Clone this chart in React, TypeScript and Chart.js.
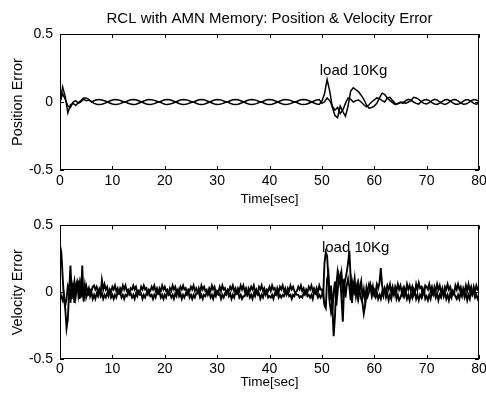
import React, { useEffect, useRef } from "react";
import { Chart, registerables } from "chart.js";

Chart.register(...registerables);

const TITLE = "RCL with AMN Memory: Position & Velocity Error";
const X_LABEL = "Time[sec]";
const POS_LABEL = "Position Error";
const VEL_LABEL = "Velocity Error";
const LOAD_TEXT = "load 10Kg";
const X_TICKS = [0, 10, 20, 30, 40, 50, 60, 70, 80];
const Y_TICKS = [-0.5, 0, 0.5];
const POS_STEP = 0.5;
const VEL_STEP = 0.25;

// Position error, joint 1 (sampled every 0.5 s)
const posA = [
  0, 0.11, 0.04, -0.08, -0.02, -0.01, -0.025, -0.005, 0.01, 0.03,
  0.03, 0.02, 0.0, 0.009, 0.016, 0.018, 0.015, 0.009, 0.002, -0.007,
  -0.014, -0.018, -0.016, -0.012, -0.004, 0.001, 0.009, 0.016, 0.019, 0.016,
  0.009, 0.002, -0.007, -0.014, -0.018, -0.017, -0.012, -0.004, 0.0, 0.009,
  0.016, 0.018, 0.016, 0.009, 0.002, -0.007, -0.015, -0.018, -0.017, -0.012,
  -0.004, 0.0, 0.009, 0.016, 0.018, 0.016, 0.009, 0.002, -0.007, -0.014,
  -0.018, -0.017, -0.012, -0.004, 0.0, 0.009, 0.016, 0.018, 0.016, 0.009,
  0.002, -0.007, -0.014, -0.018, -0.017, -0.012, -0.004, 0.0, 0.009, 0.016,
  0.018, 0.016, 0.009, 0.002, -0.007, -0.014, -0.018, -0.017, -0.012, -0.004,
  0.0, 0.009, 0.016, 0.018, 0.016, 0.009, 0.002, -0.007, -0.014, -0.018,
  0.005, 0.06, 0.165, 0.08, -0.04, -0.1, -0.115, -0.03, -0.07, -0.105,
  -0.03, 0.08, 0.105, 0.09, 0.075, 0.05, 0.02, -0.02, -0.045, -0.04,
  -0.03, -0.01, 0.03, 0.065, 0.055, 0.03, 0.035, 0.01, -0.01, -0.015,
  -0.005, 0.0, -0.01, 0.0, 0.01, 0.035, 0.03, 0.02, 0.0, -0.01,
  -0.015, -0.005, 0.01, 0.02, 0.015, 0.0, -0.012, -0.018, -0.01, 0.005,
  0.017, 0.018, 0.008, -0.006, -0.016, -0.015, -0.004, 0.01, 0.018, 0.015,
  0.005,
];

// Position error, joint 2
const posB = [
  0, 0.06, 0.02, -0.03, -0.04, 0.0, 0.01, -0.01, 0.0, 0.02,
  0.01, 0.015, 0.002, -0.01, -0.016, -0.018, -0.016, -0.01, -0.002, 0.007,
  0.014, 0.018, 0.016, 0.011, 0.004, 0.0, -0.009, -0.015, -0.018, -0.016,
  -0.009, -0.002, 0.007, 0.014, 0.018, 0.017, 0.012, 0.005, 0.0, -0.008,
  -0.016, -0.018, -0.015, -0.009, -0.002, 0.007, 0.014, 0.018, 0.016, 0.012,
  0.004, 0.0, -0.009, -0.016, -0.018, -0.016, -0.009, -0.002, 0.007, 0.014,
  0.018, 0.017, 0.012, 0.004, 0.0, -0.009, -0.016, -0.018, -0.016, -0.009,
  -0.002, 0.007, 0.014, 0.018, 0.017, 0.012, 0.004, 0.0, -0.009, -0.016,
  -0.018, -0.016, -0.009, -0.002, 0.007, 0.014, 0.018, 0.017, 0.012, 0.004,
  0.0, -0.009, -0.016, -0.018, -0.016, -0.009, -0.002, 0.007, 0.014, 0.018,
  -0.01, 0.0, 0.03, 0.01, -0.03, -0.06, -0.04, -0.085, -0.06, -0.01,
  0.03, 0.02, 0.0, 0.01, 0.015, 0.0, -0.02, -0.035, -0.02, 0.0,
  0.015, 0.03, 0.025, 0.01, 0.0, 0.03, 0.01, -0.005, -0.02, -0.01,
  0.0, -0.01, 0.01, 0.02, 0.015, 0.0, -0.01, -0.015, 0.005, 0.015,
  0.018, 0.01, -0.005, -0.015, -0.018, -0.008, 0.005, 0.016, 0.018, 0.008,
  -0.006, -0.016, -0.017, -0.008, 0.006, 0.016, 0.016, 0.005, -0.01, -0.016,
  -0.008,
];

// Velocity error, joint 1 (sampled every 0.25 s)
const velA = [
  0.35, 0.3, 0.12, -0.05, -0.12, -0.27, -0.2, 0.02, 0.2, -0.05, 0.06, -0.08, 0.05, 0.08, -0.02, 0.06, -0.04, 0.2, -0.07, 0.02,
  0.05, 0.0, 0.03, -0.03, 0.0, -0.05, -0.02, -0.05, -0.01, -0.03, 0.02, -0.01, 0.09, 0.02, 0.06, 0.02, 0.04, -0.01, 0.01, -0.04,
  -0.02, -0.05, -0.02, -0.04, 0.0, -0.01, 0.03, 0.01, 0.05, 0.02, 0.05, 0.01, 0.02, -0.02, -0.01, -0.04, -0.02, -0.05, -0.01, -0.03,
  0.01, 0.0, 0.04, 0.02, 0.05, 0.02, 0.03, -0.01, 0.0, -0.03, -0.02, -0.05, -0.02, -0.04, 0.0, -0.01, 0.03, 0.01, 0.05, 0.02,
  0.04, 0.01, 0.02, -0.02, -0.01, -0.04, -0.02, -0.05, -0.01, -0.03, 0.01, 0.0, 0.04, 0.02, 0.05, 0.02, 0.03, -0.01, 0.01, -0.04,
  -0.02, -0.05, -0.02, -0.04, -0.01, -0.01, 0.03, 0.0, 0.05, 0.02, 0.04, 0.01, 0.02, -0.02, 0.0, -0.04, -0.02, -0.05, -0.01, -0.03,
  0.01, 0.0, 0.04, 0.01, 0.05, 0.02, 0.03, -0.01, 0.01, -0.03, -0.01, -0.05, -0.02, -0.04, 0.0, -0.01, 0.03, 0.01, 0.05, 0.02,
  0.05, 0.01, 0.03, -0.02, 0.0, -0.04, -0.02, -0.05, -0.01, -0.03, 0.01, -0.01, 0.04, 0.02, 0.05, 0.01, 0.03, -0.01, 0.0, -0.04,
  -0.03, -0.04, -0.02, -0.05, -0.01, -0.02, 0.03, 0.0, 0.04, 0.02, 0.05, 0.01, 0.03, -0.02, 0.0, -0.03, -0.02, -0.05, -0.02, -0.03,
  0.0, 0.01, 0.04, 0.02, 0.05, 0.01, 0.03, -0.01, 0.0, -0.03, -0.02, -0.04, -0.02, -0.05, 0.0, -0.01, 0.03, 0.0, 0.05, 0.02,
  0.02, -0.03, 0.22, 0.3, 0.27, 0.1, -0.08, -0.15, -0.1, -0.33, -0.18, 0.05, 0.15, 0.08, 0.12, -0.05, -0.22, 0.05, 0.1, 0.15,
  0.22, 0.31, 0.1, -0.08, 0.05, 0.0, 0.04, -0.03, 0.06, 0.0, -0.05, -0.08, -0.16, -0.1, -0.02, 0.02, 0.06, 0.02, 0.04, -0.02,
  0.02, 0.0, 0.06, 0.03, 0.07, 0.18, 0.05, 0.0, 0.02, -0.04, -0.01, -0.06, -0.02, -0.05, 0.01, -0.02, 0.04, 0.01, 0.06, 0.02,
  0.05, 0.0, 0.03, -0.03, 0.0, -0.05, -0.02, -0.06, -0.01, -0.04, 0.02, -0.01, 0.06, 0.02, 0.07, 0.03, 0.04, -0.02, 0.02, -0.05,
  -0.03, -0.06, -0.02, -0.05, 0.0, -0.02, 0.04, 0.01, 0.06, 0.02, 0.05, 0.0, 0.03, -0.03, 0.0, -0.05, -0.02, -0.06, -0.01, -0.04,
  0.01, -0.01, 0.05, 0.02, 0.06, 0.02, 0.04, -0.01, 0.01, -0.04, -0.01, -0.06, -0.02, -0.05, 0.0, -0.02, 0.04, 0.0, 0.05, 0.02,
  0.03,
];

// Velocity error, joint 2
const velB = [
  0.0, -0.03, -0.06, -0.02, -0.1, -0.05, 0.05, 0.03, -0.08, 0.07, 0.02, 0.08, -0.03, 0.05, 0.07, -0.05, 0.06, 0.0, -0.04, 0.05,
  -0.04, -0.01, -0.02, 0.02, 0.01, 0.04, 0.05, 0.02, 0.04, 0.0, 0.02, -0.03, -0.01, -0.05, -0.02, -0.04, -0.01, -0.03, 0.02, 0.0,
  0.04, 0.02, 0.05, 0.01, 0.03, -0.01, 0.0, -0.04, -0.02, -0.05, -0.02, -0.03, 0.0, -0.01, 0.03, 0.02, 0.05, 0.02, 0.04, 0.0,
  -0.01, -0.02, -0.01, -0.05, -0.02, -0.04, -0.01, -0.02, 0.02, 0.01, 0.04, 0.02, 0.05, 0.01, 0.03, -0.01, 0.0, -0.04, -0.02, -0.05,
  -0.02, -0.04, 0.0, -0.01, 0.03, 0.01, 0.05, 0.02, 0.04, 0.0, 0.02, -0.03, -0.01, -0.05, -0.02, -0.04, -0.01, -0.02, 0.02, 0.01,
  0.04, 0.02, 0.05, 0.01, 0.03, 0.0, 0.0, -0.04, -0.02, -0.05, -0.02, -0.03, 0.0, -0.01, 0.03, 0.01, 0.05, 0.02, 0.04, 0.0,
  -0.01, -0.02, -0.01, -0.05, -0.02, -0.04, -0.01, -0.02, 0.02, 0.01, 0.04, 0.02, 0.05, 0.01, 0.03, -0.01, 0.0, -0.04, -0.02, -0.05,
  -0.03, -0.03, 0.0, -0.02, 0.03, 0.01, 0.04, 0.02, 0.05, 0.0, 0.02, -0.02, -0.01, -0.05, -0.02, -0.04, 0.0, -0.02, 0.02, 0.01,
  0.04, 0.01, 0.05, 0.02, 0.03, -0.01, 0.01, -0.04, -0.02, -0.04, -0.02, -0.03, 0.0, -0.01, 0.03, 0.01, 0.05, 0.02, 0.04, 0.01,
  -0.01, -0.02, -0.02, -0.04, -0.03, -0.04, -0.01, -0.02, 0.02, 0.0, 0.04, 0.02, 0.05, 0.01, 0.03, 0.0, -0.01, -0.04, -0.02, -0.04,
  -0.02, 0.0, -0.1, -0.12, 0.1, 0.14, -0.06, 0.05, -0.14, 0.0, 0.08, -0.1, 0.0, 0.12, 0.06, 0.14, 0.02, 0.1, -0.04, 0.05,
  0.1, 0.04, -0.06, 0.08, 0.02, 0.1, -0.02, 0.05, -0.04, 0.03, 0.08, -0.04, 0.02, -0.06, 0.03, -0.03, 0.0, 0.05, -0.02, 0.04,
  -0.02, -0.04, 0.0, -0.05, -0.02, -0.05, 0.0, -0.03, 0.03, 0.0, 0.05, 0.02, 0.06, 0.0, 0.04, -0.01, 0.01, -0.05, -0.02, -0.06,
  -0.04, -0.01, -0.03, 0.03, 0.0, 0.06, 0.02, 0.05, 0.01, 0.04, -0.02, 0.01, -0.05, -0.02, -0.06, -0.02, -0.04, 0.02, -0.01, 0.05,
  0.04, 0.02, 0.06, 0.01, 0.04, -0.01, 0.0, -0.04, -0.01, -0.06, -0.02, -0.04, 0.01, -0.02, 0.04, 0.02, 0.06, 0.02, 0.04, 0.0,
  -0.02, -0.01, -0.03, -0.05, -0.02, -0.05, 0.0, -0.03, 0.03, 0.0, 0.05, 0.01, 0.06, 0.01, 0.04, -0.01, 0.01, -0.04, -0.02, -0.05,
  -0.03,
];

// annotation anchor (data coordinates)
const POS_LOAD_AT = [49.6, 0.23];
const VEL_LOAD_AT = [50.0, 0.33];

const FONT = "'Liberation Sans', Arial, Helvetica, sans-serif";

const toPoints = (vals: number[], step: number) => vals.map((v, i) => ({ x: i * step, y: v }));

const framePlugin = {
  id: "matlabFrame",
  afterDatasetsDraw(chart: any) {
    const { ctx, chartArea, scales } = chart;
    const { left, right, top, bottom } = chartArea;
    ctx.save();
    ctx.strokeStyle = "#000";
    ctx.lineWidth = 1;
    ctx.strokeRect(Math.round(left) + 0.5, Math.round(top) + 0.5, Math.round(right - left) - 1, Math.round(bottom - top) - 1);
    const tl = 4;
    ctx.beginPath();
    X_TICKS.forEach((v) => {
      const px = Math.round(scales.x.getPixelForValue(v)) + 0.5;
      ctx.moveTo(px, bottom);
      ctx.lineTo(px, bottom - tl);
      ctx.moveTo(px, top);
      ctx.lineTo(px, top + tl);
    });
    Y_TICKS.forEach((v) => {
      const py = Math.round(scales.y.getPixelForValue(v)) + 0.5;
      ctx.moveTo(left, py);
      ctx.lineTo(left + tl, py);
      ctx.moveTo(right, py);
      ctx.lineTo(right - tl, py);
    });
    ctx.stroke();
    ctx.restore();
  },
};

const labelPlugin = {
  id: "loadLabel",
  afterDraw(chart: any, _args: any, opts: any) {
    if (!opts || !opts.text) return;
    const { ctx, scales } = chart;
    ctx.save();
    ctx.fillStyle = "#000";
    ctx.font = `${opts.size}px ${FONT}`;
    ctx.textAlign = "left";
    ctx.textBaseline = "middle";
    ctx.fillText(opts.text, scales.x.getPixelForValue(opts.at[0]), scales.y.getPixelForValue(opts.at[1]));
    ctx.restore();
  },
};

function buildConfig(a: number[], b: number[], step: number, lineW: number, yLabel: string, withTitle: boolean, labelAt: number[], axisH: number, tickPad: number, titlePadBottom: number, padTop: number) {
  return {
    type: "line" as const,
    data: {
      datasets: [
        { data: toPoints(a, step), borderColor: "#000", borderWidth: lineW, pointRadius: 0, tension: 0, fill: false },
        { data: toPoints(b, step), borderColor: "#000", borderWidth: lineW, pointRadius: 0, tension: 0, fill: false },
      ],
    },
    options: {
      responsive: false,
      animation: false,
      devicePixelRatio: 1,
      layout: { padding: { left: 0, right: 7, top: padTop, bottom: 0 } },
      plugins: {
        legend: { display: false },
        tooltip: { enabled: false },
        title: {
          display: withTitle,
          text: TITLE,
          fullSize: false,
          color: "#000",
          font: { family: FONT, size: 15, weight: "normal" },
          padding: { top: 9.5, bottom: 6.5 },
        },
        loadLabel: { text: LOAD_TEXT, at: labelAt, size: 15 },
      },
      scales: {
        x: {
          type: "linear",
          min: 0,
          max: 80,
          grid: { display: false, drawTicks: false },
          border: { display: false },
          afterBuildTicks: (s: any) => {
            s.ticks = X_TICKS.map((v) => ({ value: v }));
          },
          afterFit: (s: any) => {
            s.height = axisH;
            s.paddingLeft = 0;
            s.paddingRight = 0;
          },
          ticks: { color: "#000", font: { family: FONT, size: 14 }, padding: tickPad, maxRotation: 0, autoSkip: false },
          title: { display: true, text: X_LABEL, color: "#000", font: { family: FONT, size: 13.5 }, padding: { top: 0, bottom: titlePadBottom } },
        },
        y: {
          type: "linear",
          min: -0.5,
          max: 0.5,
          grid: { display: false, drawTicks: false },
          border: { display: false },
          afterBuildTicks: (s: any) => {
            s.ticks = Y_TICKS.map((v) => ({ value: v }));
          },
          afterFit: (s: any) => {
            s.width = 60;
          },
          ticks: { color: "#000", font: { family: FONT, size: 14 }, padding: 7, callback: (v: any) => String(v) },
          title: { display: true, text: yLabel, color: "#000", font: { family: FONT, size: 14.5 }, padding: { top: 9, bottom: 0 } },
        },
      },
    },
    plugins: [framePlugin, labelPlugin],
  };
}

export default function App() {
  const topRef = useRef<HTMLCanvasElement>(null);
  const botRef = useRef<HTMLCanvasElement>(null);

  useEffect(() => {
    const top = new Chart(topRef.current as HTMLCanvasElement, buildConfig(posA, posB, POS_STEP, 1.5, POS_LABEL, true, POS_LOAD_AT, 40, 3, 3, 0) as any);
    const bot = new Chart(botRef.current as HTMLCanvasElement, buildConfig(velA, velB, VEL_STEP, 1.9, VEL_LABEL, false, VEL_LOAD_AT, 42, 2, 11, 14) as any);
    return () => {
      top.destroy();
      bot.destroy();
    };
  }, []);

  return (
    <div style={{ position: "fixed", left: 0, top: 0, width: 486, height: 401, background: "#fff" }}>
      <canvas ref={topRef} width={486} height={210} style={{ position: "absolute", left: 0, top: 0, width: 486, height: 210 }} />
      <canvas ref={botRef} width={486} height={191} style={{ position: "absolute", left: 0, top: 210, width: 486, height: 191 }} />
    </div>
  );
}
